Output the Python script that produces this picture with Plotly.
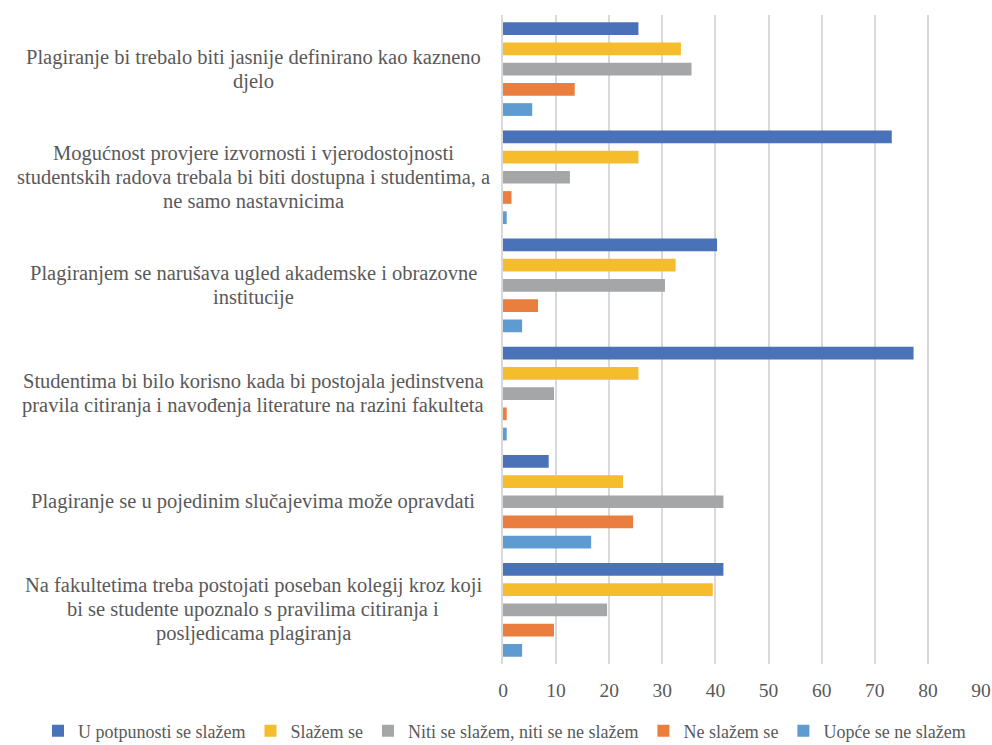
import plotly.graph_objects as go

categories = [
    "Plagiranje bi trebalo biti jasnije definirano kao kazneno<br>djelo",
    "Mogućnost provjere izvornosti i vjerodostojnosti<br>studentskih radova trebala bi biti dostupna i studentima, a<br>ne samo nastavnicima",
    "Plagiranjem se narušava ugled akademske i obrazovne<br>institucije",
    "Studentima bi bilo korisno kada bi postojala jedinstvena<br>pravila citiranja i navođenja literature na razini fakulteta",
    "Plagiranje se u pojedinim slučajevima može opravdati",
    "Na fakultetima treba postojati poseban kolegij kroz koji<br>bi se studente upoznalo s pravilima citiranja i<br>posljedicama plagiranja",
]

series_names = [
    "U potpunosti se slažem",
    "Slažem se",
    "Niti se slažem, niti se ne slažem",
    "Ne slažem se",
    "Uopće se ne slažem",
]

u_potpunosti = [25.5, 73.2, 40.3, 77.3, 8.6, 41.5]
slazem = [33.5, 25.5, 32.5, 25.5, 22.6, 39.5]
niti = [35.5, 12.6, 30.5, 9.6, 41.5, 19.6]
ne_slazem = [13.5, 1.6, 6.6, 0.7, 24.5, 9.6]
uopce = [5.5, 0.7, 3.6, 0.7, 16.6, 3.6]

series_values = [u_potpunosti, slazem, niti, ne_slazem, uopce]
colors = ["#4A72B8", "#F5BD2C", "#A5A6A8", "#EA7E3E", "#5E9BD1"]

x_ticks = [0, 10, 20, 30, 40, 50, 60, 70, 80, 90]

FONT = "Liberation Serif"
TXT = "#595959"

fig = go.Figure()
for name, vals, col in zip(series_names, series_values, colors):
    fig.add_trace(go.Bar(
        y=categories, x=vals, name=name, orientation="h",
        marker=dict(color=col, line=dict(width=0)),
    ))

L, R, T, B = 503, 11, 15, 81
W, H = 992, 745
pw = W - L - R
ph = H - T - B
LINE = 24

for cat in categories:
    lines = cat.split("<br>")
    n = len(lines)
    for i, ln in enumerate(lines):
        fig.add_annotation(
            x=(253 - L) / pw, xref="paper", y=cat, yref="y",
            text=ln, showarrow=False, align="center",
            xanchor="center", yanchor="middle",
            yshift=((n - 1) / 2 - i) * LINE,
            font=dict(family=FONT, size=20.5, color=TXT),
        )

fig.update_layout(
    width=W, height=H,
    margin=dict(l=L, r=R, t=T, b=B, autoexpand=False),
    paper_bgcolor="white", plot_bgcolor="white",
    barmode="group", bargap=0.065, bargroupgap=0.37,
    font=dict(family=FONT, size=18, color=TXT),
    xaxis=dict(
        range=[0, 90], tickvals=x_ticks, showgrid=True,
        gridcolor="#D9D9D9", gridwidth=1.5, zeroline=False,
        showline=False, ticklabelstandoff=12,
        tickfont=dict(family=FONT, size=19.5, color=TXT),
    ),
    yaxis=dict(
        autorange="reversed", showticklabels=False, showgrid=False,
        showline=True, linecolor="#D9D9D9", linewidth=1.5, zeroline=False,
    ),
    legend=dict(
        orientation="h", xref="paper", yref="paper",
        x=(38 - L) / pw, y=(664 - 731) / ph, xanchor="left", yanchor="middle",
        font=dict(family=FONT, size=18, color=TXT), itemwidth=30,
        traceorder="normal",
    ),
)

fig.write_html("out.html", config={"displayModeBar": False},
               post_script="document.body.style.margin='0';")
